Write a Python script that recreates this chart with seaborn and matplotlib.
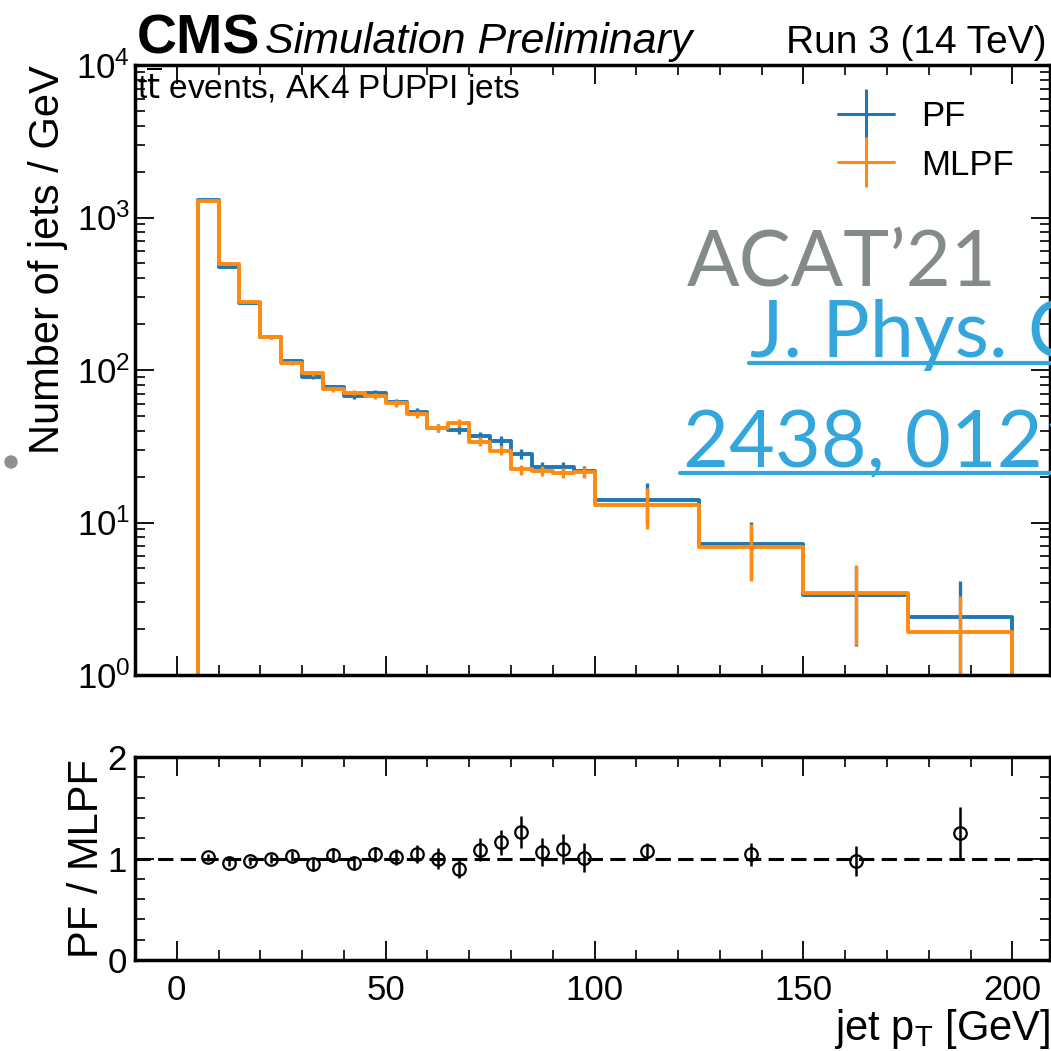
import numpy as np
import pandas as pd
import matplotlib
matplotlib.use("Agg")
import matplotlib.pyplot as plt
import seaborn as sns
from matplotlib.lines import Line2D
from matplotlib.patches import Circle
from matplotlib.ticker import MultipleLocator, LogLocator, NullFormatter

# ---------------- data ----------------
bin_edges = [5, 10, 15, 20, 25, 30, 35, 40, 45, 50, 55, 60, 65, 70, 75, 80,
             85, 90, 95, 100, 125, 150, 175, 200]
mlpf_vals = [1289, 493, 281, 165, 111, 95.1, 74.7, 71.0, 67.6, 60.5, 51.2, 41.5,
             44.7, 33.9, 29.6, 22.3, 21.8, 21.2, 21.4, 13.0, 6.94, 3.43, 1.92]
pf_vals = [1302, 473, 275, 165, 114, 89.8, 77.2, 67.7, 70.3, 61.5, 53.4, 41.5,
           40.2, 36.8, 34.3, 28.1, 23.2, 23.2, 21.6, 14.0, 7.22, 3.35, 2.41]
rel_err = [0.01, 0.015, 0.02, 0.025, 0.03, 0.035, 0.04, 0.04, 0.045, 0.05, 0.055,
           0.06, 0.06, 0.065, 0.07, 0.075, 0.08, 0.08, 0.085, 0.30, 0.40, 0.54, 0.72]
ratio_err = [0.03, 0.03, 0.04, 0.04, 0.05, 0.06, 0.07, 0.06, 0.07, 0.08, 0.09, 0.10,
             0.09, 0.115, 0.125, 0.16, 0.14, 0.15, 0.14, 0.075, 0.11, 0.15, 0.25]
series_names = ["PF", "MLPF"]
x_major_ticks = [0, 50, 100, 150, 200]

# ---------------- style ----------------
sns.set_theme(style="ticks")
plt.rcParams['font.family'] = ['Liberation Sans', 'DejaVu Sans']
plt.rcParams['mathtext.default'] = 'regular'
plt.rcParams['axes.linewidth'] = 2.5
for key in ["text.color", "axes.labelcolor", "xtick.color", "ytick.color",
            "axes.edgecolor", "xtick.labelcolor", "ytick.labelcolor"]:
    plt.rcParams[key] = "black"

BLUE = "#1f77b4"
ORANGE = "#ff8c10"
W = 1051.0
fig = plt.figure(figsize=(10.51, 10.51), dpi=100)


def fx(px):
    return px / W


def fy(py):
    return 1 - py / W


L, R = 135, 1050
ax = fig.add_axes([fx(L), fy(675), fx(R) - fx(L), fy(65) - fy(675)])
rax = fig.add_axes([fx(L), fy(960), fx(R) - fx(L), fy(757) - fy(960)])

edges = np.array(bin_edges, dtype=float)
centers = 0.5 * (edges[1:] + edges[:-1])
df = pd.DataFrame({"pt": np.concatenate([centers, centers]),
                   "val": np.concatenate([pf_vals, mlpf_vals]),
                   "algo": ["PF"] * len(centers) + ["MLPF"] * len(centers)})

colors = {"PF": BLUE, "MLPF": ORANGE}
handles = []
for name in series_names:
    sub = df[df.algo == name]
    sns.histplot(data=sub, x="pt", weights="val", bins=list(bin_edges), element="step",
                 fill=False, color=colors[name], linewidth=2.8, ax=ax)
    vals = sub["val"].to_numpy()
    # drop the outline down to the axis at both edges
    ax.vlines([edges[0], edges[-1]], 1e-3, [vals[0], vals[-1]],
              color=colors[name], lw=2.8)
    ax.errorbar(sub["pt"], vals, yerr=vals * np.array(rel_err), fmt="none",
                ecolor=colors[name], elinewidth=2.4)
    handles.append(Line2D([], [], color=colors[name], lw=2.2, marker="|",
                          markersize=36, markeredgewidth=2.2))

ax.set_yscale("log")
ax.set_ylim(1, 1e4)
ax.set_xlim(-10, 209)
ax.set_xlabel("")
ax.set_ylabel("Number of jets / GeV", fontsize=30, loc="top", labelpad=6)
ax.xaxis.set_major_locator(MultipleLocator(50))
ax.xaxis.set_minor_locator(MultipleLocator(10))
ax.yaxis.set_major_locator(LogLocator(base=10, numticks=10))
ax.yaxis.set_minor_locator(LogLocator(base=10, subs=np.arange(2, 10), numticks=100))
ax.yaxis.set_minor_formatter(NullFormatter())
ax.tick_params(which="both", direction="in", top=True, right=True,
               labelbottom=False, labelsize=25)
ax.tick_params(which="major", length=14, width=1.3)
ax.tick_params(which="minor", length=7, width=1.2)

ax.legend(handles, series_names, loc="upper left",
          bbox_to_anchor=(fx(838), fy(100)), bbox_transform=fig.transFigure,
          frameon=False, fontsize=25, handlelength=1.6, handletextpad=0.8,
          borderpad=0, borderaxespad=0, labelspacing=0.45)

# ratio panel
ratio = np.array(pf_vals) / np.array(mlpf_vals)
rax.axhline(1, color="black", ls="--", lw=2.2, dashes=(5, 2.4), zorder=1)
rax.errorbar(centers, ratio, yerr=ratio_err, fmt="o", ms=9, mfc="none",
             mec="black", mew=1.6, ecolor="black", elinewidth=1.8, zorder=3)
rax.set_xlim(-10, 209)
rax.set_ylim(0, 2)
rax.set_xticks(x_major_ticks)
rax.xaxis.set_minor_locator(MultipleLocator(10))
rax.set_yticks([0, 1, 2])
rax.yaxis.set_minor_locator(MultipleLocator(0.2))
rax.tick_params(which="both", direction="in", top=True, right=True, labelsize=25)
rax.tick_params(which="major", length=14, width=1.3, pad=10)
rax.tick_params(axis="y", which="major", pad=6)
rax.tick_params(which="minor", length=7, width=1.2)
rax.set_ylabel("PF / MLPF", fontsize=30, labelpad=0)
rax.set_xlabel(r"jet p$_{T}$ [GeV]", fontsize=30, loc="right", labelpad=0)

# header texts
fig.text(fx(137), fy(53), "CMS", fontsize=40, fontweight="bold", va="baseline")
fig.text(fx(265), fy(53), "Simulation Preliminary", fontsize=31, style="italic",
         va="baseline")
fig.text(fx(1047), fy(53), "Run 3 (14 TeV)", fontsize=28, ha="right", va="baseline")
fig.text(fx(137), fy(99), r"t$\overline{\mathrm{t}}$ events, AK4 PUPPI jets",
         fontsize=24, va="baseline")

# slide overlay
fig.text(fx(687), fy(285), "ACAT\u201921", fontsize=56, color="#858a8a",
         family=["Lato", "DejaVu Sans"], va="baseline")
fig.text(fx(750), fy(357), "J. Phys. Conf. Ser.", fontsize=57, color="#35a6dc",
         family=["Lato", "DejaVu Sans"], va="baseline")
fig.text(fx(683), fy(467), "2438, 012100", fontsize=57, color="#35a6dc",
         family=["Lato", "DejaVu Sans"], va="baseline")
fig.add_artist(Line2D([fx(749), 1.0], [fy(363), fy(363)], transform=fig.transFigure,
                      color="#35a6dc", lw=3))
fig.add_artist(Line2D([fx(680), 1.0], [fy(473), fy(473)], transform=fig.transFigure,
                      color="#35a6dc", lw=3))
fig.add_artist(Circle((fx(11), fy(462)), 6 / W, transform=fig.transFigure,
                      color="#8f8f8f"))

fig.savefig("out.png", dpi=100)
